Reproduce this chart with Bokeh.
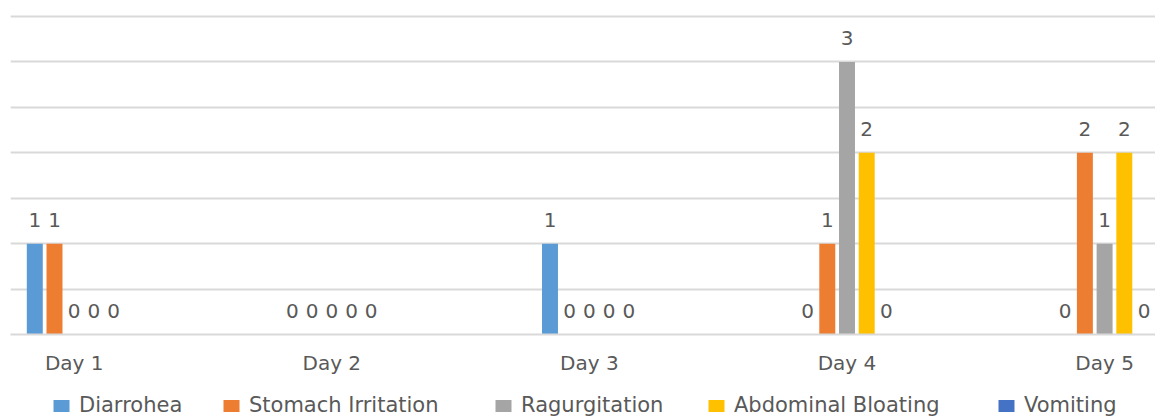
from bokeh.plotting import figure
from bokeh.layouts import column
from bokeh.models import ColumnDataSource, Range1d, FixedTicker, Legend, LegendItem
from bokeh.core.properties import value
from bokeh.embed import file_html
from bokeh.resources import INLINE

# ---- data ----
days = ["Day 1", "Day 2", "Day 3", "Day 4", "Day 5"]
series_names = ["Diarrohea", "Stomach Irritation", "Ragurgitation", "Abdominal Bloating", "Vomiting"]
diarrohea = [1, 0, 1, 0, 0]
stomach_irritation = [1, 0, 0, 1, 2]
ragurgitation = [0, 0, 0, 3, 1]
abdominal_bloating = [0, 0, 0, 2, 2]
vomiting = [0, 0, 0, 0, 0]
series_values = [diarrohea, stomach_irritation, ragurgitation, abdominal_bloating, vomiting]
colors = ["#5B9BD5", "#ED7D31", "#A5A5A5", "#FFC000", "#4472C4"]
grid_ticks = [0, 0.5, 1, 1.5, 2, 2.5, 3, 3.5]

# ---- layout constants ----
FONT = "DejaVu Sans"
TEXT_COLOR = "#595959"
GRID_COLOR = "#D9D9D9"
pitch = 0.0765
bar_w = 0.062
legend_x = [41, 211, 483, 696, 986]

p = figure(width=1155, height=380, output_backend="svg", toolbar_location=None,
           x_range=Range1d(-0.2473, 4.1976), y_range=Range1d(0, 3.566),
           min_border_left=10, min_border_right=0, min_border_top=10, min_border_bottom=46)
p.outline_line_color = None
p.background_fill_color = "white"
p.border_fill_color = "white"

xs = list(range(len(days)))
lab_x, lab_y, lab_t = [], [], []
for k, (name, vals, col) in enumerate(zip(series_names, series_values, colors)):
    off = (k - 2) * pitch
    src = ColumnDataSource(dict(x=[x + off for x in xs], top=vals))
    p.vbar(x="x", top="top", width=bar_w, bottom=0, source=src,
           fill_color=col, line_color=None)
    for x, v in zip(xs, vals):
        lab_x.append(x + off)
        lab_y.append(v)
        lab_t.append(str(v))

lsrc = ColumnDataSource(dict(x=lab_x, y=lab_y, t=lab_t))
p.text(x="x", y="y", text="t", source=lsrc, text_align="center",
       text_baseline="alphabetic", y_offset=-24,
       text_font=value(FONT), text_font_size="20px", text_color=TEXT_COLOR)

# axes / grid
p.yaxis.visible = False
p.xgrid.visible = False
p.ygrid.ticker = FixedTicker(ticks=grid_ticks)
p.ygrid.grid_line_color = GRID_COLOR
p.ygrid.grid_line_width = 2
p.xaxis.ticker = FixedTicker(ticks=xs)
p.xaxis.major_label_overrides = {x: d for x, d in zip(xs, days)}
p.xaxis.axis_line_color = GRID_COLOR
p.xaxis.axis_line_width = 2
p.xaxis.major_tick_line_color = None
p.xaxis.minor_tick_line_color = None
p.xaxis.major_label_standoff = 10
p.xaxis.major_label_text_font = FONT
p.xaxis.major_label_text_font_size = "20px"
p.xaxis.major_label_text_color = TEXT_COLOR

# ---- legend strip ----
lp = figure(width=1155, height=37, output_backend="svg", toolbar_location=None,
            x_range=Range1d(0, 1), y_range=Range1d(0, 1),
            min_border_left=0, min_border_right=0, min_border_top=0, min_border_bottom=0)
lp.axis.visible = False
lp.grid.visible = False
lp.outline_line_color = None
for name, col, lx in zip(series_names, colors, legend_x):
    # off-screen swatch renderer, used only for the legend glyph
    dummy = ColumnDataSource(dict(x=[-5], top=[0]))
    r = lp.vbar(x="x", top="top", width=0.1, source=dummy, fill_color=col, line_color=None)
    lg = Legend(items=[LegendItem(label=name, renderers=[r])], location=(lx, 0),
                orientation="horizontal", glyph_width=20, glyph_height=15,
                label_standoff=8, padding=0, margin=0, border_line_color=None,
                background_fill_alpha=0, label_text_font=FONT,
                label_text_font_size="21px", label_text_color=TEXT_COLOR)
    lp.add_layout(lg, "center")

layout = column(p, lp, spacing=0)
open("out.html", "w").write(file_html(layout, INLINE))
